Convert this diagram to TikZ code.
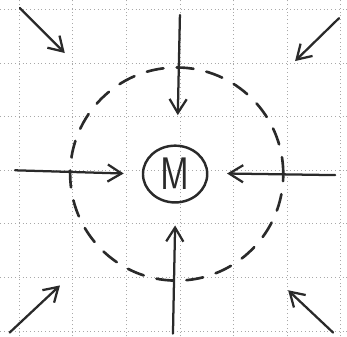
\documentclass[tikz,border=0pt]{standalone}
\usepackage{tikz}
\usetikzlibrary{arrows.meta,shapes.geometric}
\definecolor{cInk}{HTML}{2A2A2A}
\definecolor{cGrid}{HTML}{A8A8A8}

\begin{document}
\begin{tikzpicture}[>={Straight Barb[length=2.6mm,width=3.2mm]},
  gridline/.style={cGrid, line width=0.4pt, dash pattern=on 0.5pt off 1.5pt},
  pull/.style={->, cInk, line width=1.2pt, line cap=round},
  shell/.style={cInk, line width=1.4pt, dash pattern=on 9pt off 7pt, line cap=round}]
\useasboundingbox (-3.36,-3.10) rectangle (3.12,3.18);
\draw[gridline] (-3.36,-3.10) grid (3.12,3.18);
% the mass and the dashed shell round it
\node[ellipse, draw=cInk, line width=1.3pt, minimum width=1.2cm, minimum height=1.06cm, inner sep=0pt,
  font=\fontsize{22}{24}\sffamily, text=cInk] (mass) at (-0.09,-0.07) {\scalebox{0.85}[1.1]{M}};
\draw[shell] (-0.06,-0.07) circle (1.99);
% free ends of the arrows
\coordinate (topS) at (0,2.90);       \coordinate (topE) at (-0.04,1.03);
\coordinate (leftS) at (-3.08,0);     \coordinate (leftE) at (-1.05,-0.06);
\coordinate (rightS) at (2.90,-0.09); \coordinate (rightE) at (0.88,-0.06);
\coordinate (botS) at (-0.13,-3.05);  \coordinate (botE) at (-0.09,-1.03);
\coordinate (tlS) at (-2.99,3.03);    \coordinate (tlE) at (-2.15,2.19);
\coordinate (trS) at (2.97,2.84);     \coordinate (trE) at (2.15,2.04);
\coordinate (blS) at (-3.18,-3.03);   \coordinate (blE) at (-2.24,-2.15);
\coordinate (brS) at (2.86,-3.03);    \coordinate (brE) at (2.02,-2.24);
\foreach \a in {top,left,right,bot,tl,tr,bl,br}
  \draw[pull] (\a S) -- (\a E);
\end{tikzpicture}
\end{document}
